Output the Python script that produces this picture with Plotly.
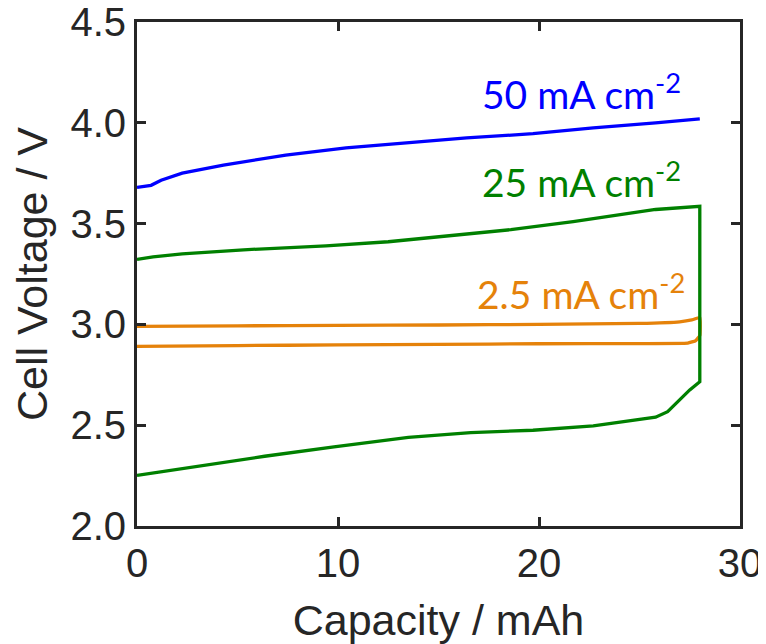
import plotly.graph_objects as go

# 50 mA cm-2 (blue)
x50 = [0, 0.7, 1.2, 2.25, 4.3, 7.4, 10.4, 13.5, 15.2, 16.4, 19.7, 22.7, 25.8, 28.0]
v50 = [3.68, 3.69, 3.715, 3.75, 3.79, 3.84, 3.876, 3.90, 3.914, 3.925, 3.946, 3.975, 4.0, 4.02]

# 25 mA cm-2 (green): discharge branch then charge branch
x25_low = [0, 3.3, 6.35, 9.8, 13.5, 16.6, 19.7, 22.7, 24.8, 25.8, 26.4, 27.0, 27.5, 28.0]
v25_low = [2.251, 2.30, 2.346, 2.393, 2.44, 2.463, 2.475, 2.497, 2.524, 2.54, 2.567, 2.624, 2.675, 2.716]
x25_up = [0, 0.8, 2.25, 5.3, 9.4, 12.5, 15.6, 18.6, 21.7, 23.8, 25.8, 28.0]
v25_up = [3.322, 3.335, 3.35, 3.37, 3.39, 3.41, 3.44, 3.47, 3.51, 3.54, 3.57, 3.586]

# 2.5 mA cm-2 (orange)
x2_low = [0, 5, 10, 15, 20, 25, 27.4, 27.8, 28.0]
v2_low = [2.891, 2.895, 2.898, 2.901, 2.904, 2.905, 2.907, 2.92, 2.945]
x2_up = [0, 5, 10, 15, 20, 25, 27.0, 27.6, 28.0]
v2_up = [2.99, 2.993, 2.995, 2.997, 3.0, 3.005, 3.013, 3.022, 3.034]

labels = ["50 mA cm<sup>-2</sup>", "25 mA cm<sup>-2</sup>", "2.5 mA cm<sup>-2</sup>"]
label_x = [27.15, 27.15, 27.35]
label_y = [4.155, 3.721, 3.161]

c_blue = "#0000FF"
c_green = "#008000"
c_orange = "#E5820A"
axc = "#262626"
tfont = "Liberation Sans, Arial, sans-serif"

fig = go.Figure()
fig.add_trace(go.Scatter(x=x50, y=v50, mode="lines", line=dict(color=c_blue, width=3.3), showlegend=False))
fig.add_trace(go.Scatter(x=x2_low + x2_up[::-1], y=v2_low + v2_up[::-1], mode="lines",
                         line=dict(color=c_orange, width=3.3, shape="spline", smoothing=0.3), showlegend=False))
fig.add_trace(go.Scatter(x=x25_low + x25_up[::-1], y=v25_low + v25_up[::-1], mode="lines",
                         line=dict(color=c_green, width=3.3), showlegend=False))

for t, xx, yy, c in zip(labels, label_x, label_y, [c_blue, c_green, c_orange]):
    fig.add_annotation(x=xx, y=yy, text=t, showarrow=False, xanchor="right", yanchor="middle",
                       font=dict(family="Lato, Open Sans, sans-serif", size=39, color=c))

axis_common = dict(showline=True, linecolor=axc, linewidth=3, mirror="ticks", ticks="inside",
                   ticklen=9, tickwidth=3, tickcolor=axc, showgrid=False, zeroline=False,
                   automargin=False, ticklabeloverflow="allow",
                   tickfont=dict(family=tfont, size=40, color=axc))
fig.update_xaxes(range=[0, 30], tickvals=[0, 10, 20, 30], ticktext=["0", "10", "20", "30"],
                 title=dict(text="Capacity / mAh", font=dict(family=tfont, size=43, color=axc), standoff=26),
                 **axis_common)
fig.update_yaxes(range=[2.0, 4.5], tickvals=[2.0, 2.5, 3.0, 3.5, 4.0, 4.5],
                 ticktext=["2.0", "2.5", "3.0", "3.5", "4.0", "4.5"],
                 title=dict(text="Cell Voltage / V", font=dict(family=tfont, size=43, color=axc), standoff=14),
                 **axis_common)

fig.update_layout(width=758, height=636, margin=dict(l=129, r=26, t=14, b=118),
                  plot_bgcolor="white", paper_bgcolor="white")
fig.write_html("out.html")
